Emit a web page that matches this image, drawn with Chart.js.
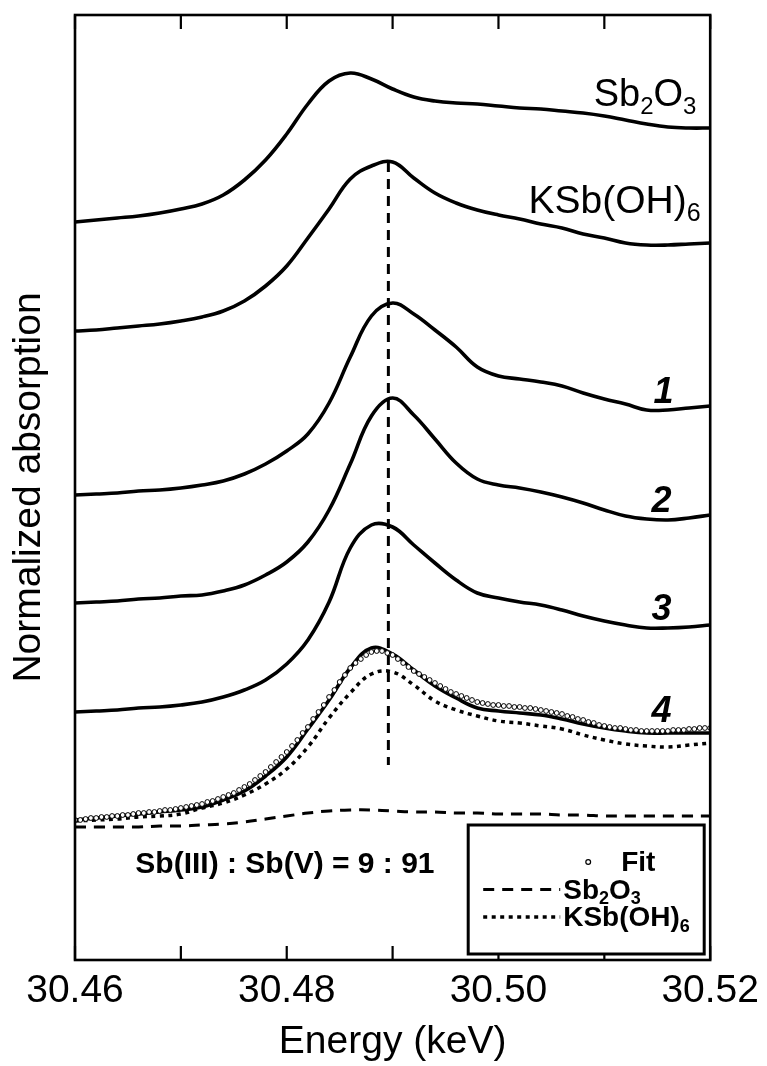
<!DOCTYPE html>
<html>
<head>
<meta charset="utf-8">
<script src="https://cdn.jsdelivr.net/npm/chart.js@4.4.1/dist/chart.umd.min.js"></script>
<style>
  html, body { margin: 0; padding: 0; background: #fff; }
  #wrap { width: 767px; height: 1066px; }
</style>
</head>
<body>
<div id="wrap"><canvas id="xanes"></canvas></div>
<script>
// Sb K-edge XANES, stacked (offset) spectra; energy in keV
const energy = [30.460, 30.462, 30.464, 30.466, 30.468, 30.470, 30.472, 30.474, 30.476, 30.478,
                30.480, 30.482, 30.484, 30.486, 30.488, 30.490, 30.492, 30.494, 30.496, 30.498,
                30.500, 30.502, 30.504, 30.506, 30.508, 30.510, 30.512, 30.514, 30.516, 30.518, 30.520];

const refSb2O3 = [7.38, 7.40, 7.42, 7.44, 7.47, 7.51, 7.56, 7.65, 7.80, 8.00, 8.26, 8.56, 8.79, 8.87, 8.81, 8.71,
                  8.63, 8.59, 8.57, 8.56, 8.54, 8.52, 8.51, 8.49, 8.47, 8.44, 8.40, 8.36, 8.33, 8.32, 8.32];
const refKSbOH6 = [6.29, 6.30, 6.32, 6.34, 6.36, 6.39, 6.43, 6.49, 6.59, 6.74, 6.94, 7.22, 7.51, 7.81, 7.94, 7.98,
                   7.82, 7.67, 7.57, 7.50, 7.45, 7.41, 7.36, 7.32, 7.26, 7.22, 7.17, 7.15, 7.15, 7.16, 7.17];
const sample1 = [4.65, 4.66, 4.67, 4.69, 4.70, 4.72, 4.75, 4.79, 4.86, 4.96, 5.09, 5.26, 5.57, 6.03, 6.44, 6.57,
                 6.46, 6.30, 6.13, 5.93, 5.84, 5.81, 5.78, 5.74, 5.67, 5.61, 5.56, 5.50, 5.50, 5.52, 5.54];
const sample2 = [3.57, 3.58, 3.59, 3.61, 3.62, 3.64, 3.65, 3.69, 3.75, 3.85, 3.98, 4.18, 4.50, 4.96, 5.44, 5.62,
                 5.45, 5.21, 4.97, 4.81, 4.75, 4.72, 4.68, 4.63, 4.57, 4.50, 4.44, 4.41, 4.40, 4.42, 4.45];
const sample3 = [2.48, 2.49, 2.50, 2.52, 2.53, 2.55, 2.58, 2.63, 2.70, 2.80, 2.96, 3.20, 3.58, 4.12, 4.35, 4.33,
                 4.15, 3.97, 3.80, 3.67, 3.62, 3.58, 3.55, 3.50, 3.44, 3.39, 3.35, 3.32, 3.32, 3.33, 3.35];
const sample4 = [1.40, 1.42, 1.44, 1.46, 1.48, 1.50, 1.53, 1.60, 1.69, 1.84, 2.03, 2.31, 2.60, 2.92, 3.12, 3.06,
                 2.90, 2.74, 2.62, 2.52, 2.49, 2.47, 2.45, 2.41, 2.36, 2.32, 2.29, 2.27, 2.27, 2.27, 2.27];

// fit components for sample 4 (weighted standards)
const compSb2O3 = [1.33, 1.33, 1.33, 1.33, 1.34, 1.34, 1.35, 1.36, 1.38, 1.41, 1.44, 1.47, 1.49, 1.50, 1.50, 1.49,
                   1.48, 1.48, 1.47, 1.47, 1.46, 1.46, 1.46, 1.45, 1.45, 1.44, 1.44, 1.44, 1.44, 1.44, 1.44];
const compKSbOH6 = [1.39, 1.40, 1.41, 1.43, 1.44, 1.46, 1.52, 1.57, 1.65, 1.76, 1.91, 2.13, 2.42, 2.67, 2.86, 2.88,
                    2.75, 2.59, 2.50, 2.44, 2.39, 2.37, 2.34, 2.31, 2.25, 2.20, 2.16, 2.14, 2.13, 2.15, 2.17];

// linear-combination fit, sampled every 0.5 eV from 30.460 keV
const fitStep = 0.0005;
const fitValues = [
  1.40, 1.40, 1.41, 1.42, 1.42, 1.43, 1.43, 1.44, 1.44, 1.45,
  1.45, 1.46, 1.47, 1.47, 1.48, 1.48, 1.49, 1.50, 1.50, 1.51,
  1.52, 1.53, 1.54, 1.55, 1.56, 1.58, 1.59, 1.61, 1.63, 1.65,
  1.67, 1.70, 1.73, 1.76, 1.80, 1.84, 1.88, 1.93, 1.98, 2.03,
  2.08, 2.14, 2.20, 2.27, 2.33, 2.41, 2.48, 2.55, 2.63, 2.70,
  2.78, 2.85, 2.92, 2.97, 3.01, 3.05, 3.08, 3.09, 3.09, 3.07,
  3.05, 3.01, 2.97, 2.93, 2.89, 2.86, 2.83, 2.80, 2.77, 2.74,
  2.71, 2.68, 2.66, 2.64, 2.62, 2.60, 2.58, 2.57, 2.56, 2.55,
  2.55, 2.54, 2.54, 2.53, 2.53, 2.52, 2.52, 2.51, 2.50, 2.49,
  2.48, 2.47, 2.46, 2.44, 2.43, 2.41, 2.40, 2.38, 2.37, 2.35,
  2.34, 2.33, 2.32, 2.32, 2.31, 2.30, 2.30, 2.29, 2.29, 2.29,
  2.29, 2.29, 2.29, 2.30, 2.30, 2.30, 2.31, 2.31, 2.32, 2.32, 2.32
];

// white-line position of KSb(OH)6 (keV) and the span of the guide line
const peakEnergy = 30.4896;
const peakSpan = [7.98, 1.95];

const legendLabels = ['Fit', 'Sb2O3', 'KSb(OH)6'];

const FONT = "'Liberation Sans', Arial, Helvetica, sans-serif";

const pts = ys => energy.map((e, i) => ({ x: e, y: ys[i] }));

function solid(label, ys) {
  return {
    label, data: pts(ys), borderColor: '#000', borderWidth: 3.6,
    pointRadius: 0, tension: 0.4, fill: false
  };
}

// digits in a formula become subscripts
function formulaParts(s) {
  return s.split(/(\d+)/).filter(Boolean).map(t => [t, /^\d+$/.test(t)]);
}

function drawRich(ctx, parts, x, y, size, style, align) {
  const sub = Math.round(size * 0.64);
  const fontFor = p => `${style} ${p[1] ? sub : size}px ${FONT}`;
  let w = 0;
  parts.forEach(p => { ctx.font = fontFor(p); w += ctx.measureText(p[0]).width; });
  let cx = align === 'right' ? x - w : align === 'center' ? x - w / 2 : x;
  ctx.textAlign = 'left';
  ctx.textBaseline = 'alphabetic';
  parts.forEach(p => {
    ctx.font = fontFor(p);
    ctx.fillText(p[0], cx, p[1] ? y + size * 0.2 : y);
    cx += ctx.measureText(p[0]).width;
  });
}

// box around the plot with inward ticks on top and bottom
const framePlugin = {
  id: 'frame',
  afterDatasetsDraw(chart) {
    const { ctx, chartArea: a, scales: { x } } = chart;
    ctx.save();
    ctx.strokeStyle = '#000';
    ctx.lineWidth = 2.2;
    x.ticks.forEach(t => {
      const px = x.getPixelForValue(t.value);
      ctx.beginPath();
      ctx.moveTo(px, a.bottom); ctx.lineTo(px, a.bottom - 14);
      ctx.moveTo(px, a.top); ctx.lineTo(px, a.top + 14);
      ctx.stroke();
    });
    ctx.lineWidth = 2.6;
    ctx.strokeRect(a.left, a.top, a.right - a.left, a.bottom - a.top);
    ctx.restore();
  }
};

// curve names, sample numbers and the fit result
const annotations = [
  { parts: formulaParts('Sb2O3'), x: 30.5187, y: 8.54, size: 38, style: 'normal', align: 'right' },
  { parts: formulaParts('KSb(OH)6'), x: 30.5191, y: 7.47, size: 39, style: 'normal', align: 'right' },
  { parts: [['1', false]], x: 30.5156, y: 5.57, size: 36, style: 'italic bold', align: 'center' },
  { parts: [['2', false]], x: 30.5154, y: 4.48, size: 36, style: 'italic bold', align: 'center' },
  { parts: [['3', false]], x: 30.5154, y: 3.40, size: 36, style: 'italic bold', align: 'center' },
  { parts: [['4', false]], x: 30.5154, y: 2.38, size: 36, style: 'italic bold', align: 'center' },
  { parts: [['Sb(III) : Sb(V) = 9 : 91', false]], x: 30.4657, y: 0.87, size: 30, style: 'bold', align: 'left' }
];

const labelPlugin = {
  id: 'labels',
  afterDraw(chart) {
    const { ctx, scales: { x, y } } = chart;
    ctx.save();
    ctx.fillStyle = '#000';
    annotations.forEach(a => {
      drawRich(ctx, a.parts, x.getPixelForValue(a.x), y.getPixelForValue(a.y), a.size, a.style, a.align);
    });
    ctx.restore();
  }
};

// framed legend in the lower right corner of the plot
const legendPlugin = {
  id: 'legendBox',
  afterDatasetsDraw(chart) {
    const { ctx, chartArea: a } = chart;
    const w = 236, h = 129;
    const left = a.right - 6 - w, top = a.bottom - 6 - h;
    ctx.save();
    ctx.fillStyle = '#fff';
    ctx.fillRect(left, top, w, h);
    ctx.lineWidth = 3;
    ctx.strokeStyle = '#000';
    ctx.strokeRect(left, top, w, h);
    const rows = legendLabels.map(l => chart.data.datasets.find(d => d.label === l));
    rows.forEach((d, i) => {
      const cy = top + 37 + i * 27.5;
      ctx.strokeStyle = '#000';
      let tx;
      if (d.showLine === false) {
        ctx.setLineDash([]);
        ctx.lineWidth = 1.2;
        ctx.fillStyle = '#fff';
        ctx.beginPath();
        ctx.arc(left + 120, cy, 2.4, 0, Math.PI * 2);
        ctx.fill();
        ctx.stroke();
        tx = left + 153;
      } else {
        ctx.setLineDash(d.borderDash || []);
        ctx.lineWidth = d.borderWidth;
        ctx.beginPath();
        ctx.moveTo(left + 15, cy);
        ctx.lineTo(left + 92, cy);
        ctx.stroke();
        ctx.setLineDash([]);
        tx = left + 95;
      }
      ctx.fillStyle = '#000';
      drawRich(ctx, formulaParts(d.label), tx, cy + 9, 28, 'bold', 'left');
    });
    ctx.restore();
  }
};

new Chart(document.getElementById('xanes'), {
  type: 'line',
  data: {
    datasets: [
      {
        label: 'Fit',
        data: fitValues.map((v, i) => ({ x: 30.46 + i * fitStep, y: v })),
        showLine: false, pointStyle: 'circle', pointRadius: 2.4, pointBorderWidth: 1,
        pointBorderColor: '#000', pointBackgroundColor: '#fff'
      },
      solid('Sb2O3 standard', refSb2O3),
      solid('KSb(OH)6 standard', refKSbOH6),
      solid('1', sample1),
      solid('2', sample2),
      solid('3', sample3),
      solid('4', sample4),
      {
        label: 'Sb2O3', data: pts(compSb2O3), borderColor: '#000', borderWidth: 3,
        borderDash: [11, 8], pointRadius: 0, tension: 0.4
      },
      {
        label: 'KSb(OH)6', data: pts(compKSbOH6), borderColor: '#000', borderWidth: 3.5,
        borderDash: [4, 4.5], pointRadius: 0, tension: 0.4
      },
      {
        label: 'KSb(OH)6 white line',
        data: peakSpan.map(v => ({ x: peakEnergy, y: v })),
        borderColor: '#000', borderWidth: 3, borderDash: [10, 7], pointRadius: 0
      }
    ]
  },
  options: {
    responsive: true,
    maintainAspectRatio: false,
    animation: false,
    devicePixelRatio: 1,
    layout: { padding: { top: 15, right: 55, left: 0, bottom: 0 } },
    plugins: { legend: { display: false }, tooltip: { enabled: false } },
    scales: {
      x: {
        type: 'linear', min: 30.46, max: 30.52,
        grid: { display: false, drawTicks: false },
        border: { display: false },
        ticks: {
          stepSize: 0.01, padding: 8, color: '#000', maxRotation: 0,
          font: { family: FONT, size: 39 },
          callback: v => (Math.round(v * 100) % 2 === 0 ? v.toFixed(2) : '')
        },
        title: {
          display: true, text: 'Energy (keV)', color: '#000',
          font: { family: FONT, size: 39 }, padding: { top: 0, bottom: 0 }
        },
        afterFit(scale) { scale.height = 106; }
      },
      y: {
        min: 0, max: 9.45,
        grid: { display: false, drawTicks: false },
        border: { display: false },
        ticks: { display: false },
        title: {
          display: true, text: 'Normalized absorption', color: '#000',
          font: { family: FONT, size: 39 }, padding: { top: 6, bottom: 0 }
        },
        afterFit(scale) { scale.width = 75; }
      }
    }
  },
  plugins: [framePlugin, legendPlugin, labelPlugin]
});
</script>
</body>
</html>
